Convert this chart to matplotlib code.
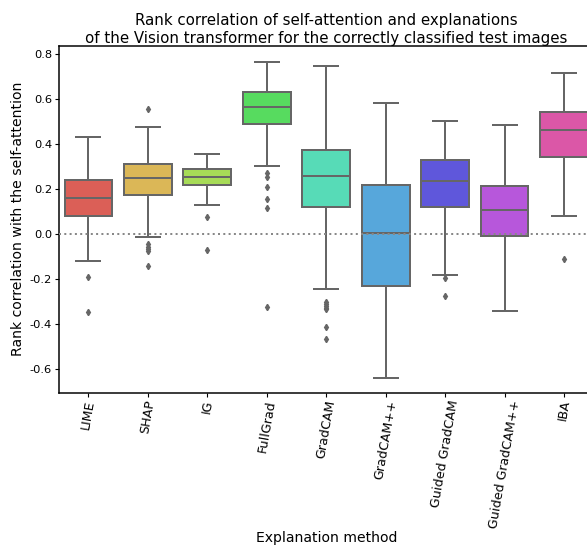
import matplotlib
matplotlib.use("Agg")
import matplotlib.pyplot as plt
import seaborn as sns

methods = ["LIME", "SHAP", "IG", "FullGrad", "GradCAM", "GradCAM++",
           "Guided GradCAM", "Guided GradCAM++", "IBA"]
whisk_low = [-0.119, -0.012, 0.130, 0.304, -0.245, -0.637, -0.181, -0.342, 0.083]
q1 = [0.083, 0.176, 0.221, 0.492, 0.123, -0.231, 0.123, -0.009, 0.344]
median = [0.161, 0.249, 0.256, 0.564, 0.260, 0.007, 0.238, 0.109, 0.464]
q3 = [0.243, 0.314, 0.289, 0.631, 0.375, 0.218, 0.329, 0.215, 0.542]
whisk_high = [0.431, 0.477, 0.357, 0.766, 0.749, 0.582, 0.504, 0.484, 0.716]
outliers = [
    [-0.191, -0.347],
    [0.556, -0.043, -0.055, -0.065, -0.073, -0.141],
    [0.078, -0.071],
    [0.274, 0.253, 0.209, 0.158, 0.118, -0.324],
    [-0.302, -0.310, -0.318, -0.326, -0.334, -0.410, -0.464],
    [],
    [-0.196, -0.274],
    [],
    [-0.108],
]
yticks = [-0.6, -0.4, -0.2, 0.0, 0.2, 0.4, 0.6, 0.8]
ytick_labels = ["-0.6", "-0.4", "-0.2", "0.0", "0.2", "0.4", "0.6", "0.8"]

PX = 0.72  # points per pixel at dpi 100
fig = plt.figure(figsize=(5.87, 5.46), dpi=100)
ax = fig.add_axes([0.0998, 0.2808, 0.912, 0.6355])

pal = sns.color_palette("hls", len(methods))
gray = "#666666"
lw = 2 * PX

stats = []
for i, m in enumerate(methods):
    stats.append(dict(label=m, whislo=whisk_low[i], q1=q1[i], med=median[i],
                      q3=q3[i], whishi=whisk_high[i], fliers=outliers[i]))

bp = ax.bxp(stats, positions=range(len(methods)), widths=0.8, patch_artist=True,
            boxprops=dict(edgecolor=gray, linewidth=lw),
            medianprops=dict(color=gray, linewidth=lw),
            whiskerprops=dict(color=gray, linewidth=lw),
            capprops=dict(color=gray, linewidth=lw),
            flierprops=dict(marker="d", markersize=3.2, markerfacecolor=gray,
                            markeredgecolor=gray, linestyle="none"))
for patch, c in zip(bp["boxes"], pal):
    patch.set_facecolor(c)

ax.axhline(0, color="#888888", linestyle=":", linewidth=2 * PX, zorder=5)

ax.set_xlim(-0.5, len(methods) - 0.5)
ax.set_ylim(-0.704, 0.838)
ax.set_yticks(yticks)
ax.set_yticklabels(ytick_labels, fontsize=11.5 * PX)
ax.set_xticks(range(len(methods)))
ax.set_xticklabels(methods, rotation=80, fontsize=12.6 * PX)
ax.tick_params(axis="both", length=4 * PX, pad=2.5 * PX)
ax.set_xlabel("Explanation method", fontsize=14 * PX)
ax.xaxis.set_label_coords(0.5, -0.398)
ax.set_ylabel("Rank correlation with the self-attention", fontsize=14 * PX)
ax.yaxis.set_label_coords(-0.063, 0.5)
ax.set_title("Rank correlation of self-attention and explanations\n"
             "of the Vision transformer for the correctly classified test images",
             fontsize=15.0 * PX, pad=2)
for s in ax.spines.values():
    s.set_linewidth(1.5 * PX)

fig.savefig("out.png", dpi=100)
